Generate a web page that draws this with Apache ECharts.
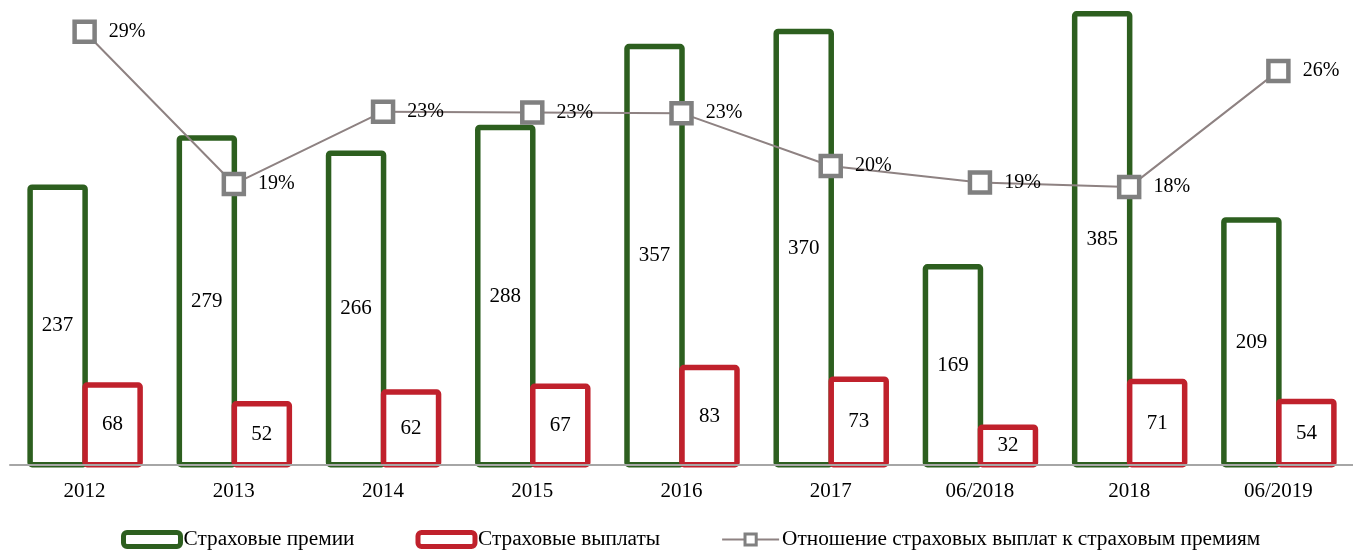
<!DOCTYPE html>
<html><head><meta charset="utf-8">
<script src="https://cdn.jsdelivr.net/npm/echarts@6/dist/echarts.min.js"></script>
<style>html,body{margin:0;padding:0;background:#fff}#c{width:1353px;height:550px}</style>
</head><body><div id="c"></div>
<script>
const categories = ['2012','2013','2014','2015','2016','2017','06/2018','2018','06/2019'];
const premiums = [237,279,266,288,357,370,169,385,209];
const payouts = [68,52,62,67,83,73,32,71,54];
const ratio = [28.7,18.6,23.4,23.35,23.3,19.8,18.7,18.4,26.1];
const seriesNames = ['Страховые премии','Страховые выплаты','Отношение страховых выплат к страховым премиям'];

const FONT = "'Times New Roman','Liberation Serif',serif";
const GREEN = '#2D5F1F', RED = '#C0212C', LINE = '#8E8282', MARK = '#808080';
const BAR_W = 55;

function barRenderer(color, side) {
  return function (params, api) {
    const idx = api.value(0), v = api.value(1);
    const top = api.coord([idx, v]);
    const base = api.coord([idx, 0]);
    const x = side < 0 ? base[0] - BAR_W + 0.5 : base[0] + 0.5;
    return {
      type:'rect',
      shape:{x:x, y:top[1], width:BAR_W, height:base[1]-top[1], r:2},
      style:{fill:'#fff', stroke:color, lineWidth:5.5, lineJoin:'round'},
      textContent:{style:{text:String(v), fontFamily:FONT, fontSize:21, fill:'#000'}},
      textConfig:{position:'inside'}
    };
  };
}

const chart = echarts.init(document.getElementById('c'));
chart.setOption({
  animation:false,
  textStyle:{fontFamily:FONT},
  grid:{left:10, top:0, width:1352, height:464.7},
  legend:{
    top:524, left:116, itemWidth:57, itemHeight:14, itemGap:61,
    textStyle:{fontFamily:FONT, fontSize:21.3, color:'#000', padding:[0,0,0,-2]},
    data:[
      {name:seriesNames[0], icon:'roundRect', itemStyle:{color:'#fff', borderColor:GREEN, borderWidth:5}},
      {name:seriesNames[1], icon:'roundRect', itemStyle:{color:'#fff', borderColor:RED, borderWidth:5}},
      {name:seriesNames[2], itemStyle:{color:'#fff', borderColor:MARK, borderWidth:3}}
    ]
  },
  xAxis:{type:'category', data:categories, z:10,
    axisLine:{onZero:false, lineStyle:{color:'#A6A6A6', width:2}},
    axisTick:{show:false},
    axisLabel:{fontFamily:FONT, fontSize:21, color:'#000', margin:16}},
  yAxis:[
    {type:'value', min:0, max:396.8, show:false, splitLine:{show:false}},
    {type:'value', min:0, max:30.8, show:false, splitLine:{show:false}}
  ],
  series:[
    {name:seriesNames[0], type:'custom', z:2, itemStyle:{color:GREEN},
     renderItem:barRenderer(GREEN, -1),
     data:premiums.map((v,i)=>[i,v])},
    {name:seriesNames[1], type:'custom', z:3, itemStyle:{color:RED},
     renderItem:barRenderer(RED, 1),
     data:payouts.map((v,i)=>[i,v])},
    {name:seriesNames[2], type:'line', yAxisIndex:1, data:ratio, z:5,
     symbol:'rect', symbolSize:20,
     lineStyle:{color:LINE, width:2},
     itemStyle:{color:'#fff', borderColor:MARK, borderWidth:4.5},
     label:{show:true, position:'right', distance:12, fontFamily:FONT, fontSize:20, color:'#000',
       formatter:p=>Math.round(p.value)+'%'}}
  ]
});
</script></body></html>
